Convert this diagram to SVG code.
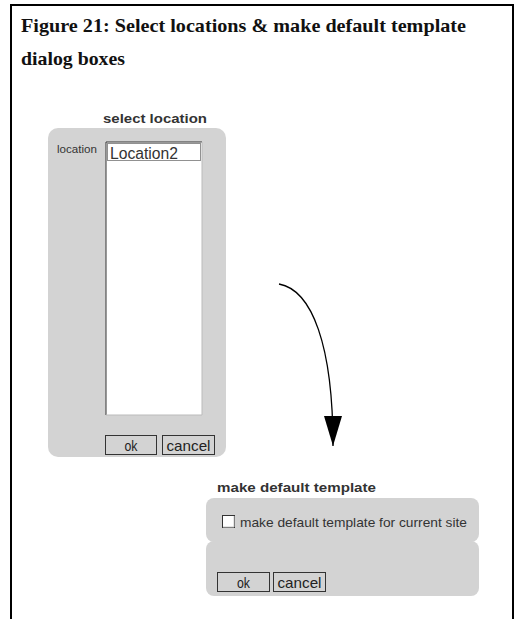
<svg xmlns="http://www.w3.org/2000/svg" width="517" height="619" viewBox="0 0 517 619">
<style>
.panel{fill:#d3d3d3}
.dtitle{font-family:"Liberation Sans",Arial,sans-serif;font-weight:bold;font-size:13px;fill:#333}
.btn{fill:#d3d3d3;stroke:#333;stroke-width:1}
.btxt{font-family:"Liberation Sans",Arial,sans-serif;font-size:15px;fill:#222}
.lbl{font-family:"Liberation Sans",Arial,sans-serif;fill:#333}
.cap{font-family:"Liberation Serif",serif;font-weight:bold;font-size:19px;fill:#111}
</style>
<defs>
<marker id="ah" viewBox="0 0 30 18" refX="30" refY="9" markerWidth="30" markerHeight="18" markerUnits="userSpaceOnUse" orient="auto">
<path d="M0,0 L30,9 L0,18 Z" fill="#000"/>
</marker>
</defs>
<rect width="517" height="619" fill="#fff"/>
<path d="M11,620 L11,5 L513,5 L513,620" fill="none" stroke="#000" stroke-width="2"/>
<g id="caption">
<text class="cap" x="21" y="32" textLength="445" lengthAdjust="spacingAndGlyphs">Figure 21: Select locations &amp; make default template</text>
<text class="cap" x="21" y="65" textLength="104" lengthAdjust="spacingAndGlyphs">dialog boxes</text>
</g>
<g id="select-location">
<text class="dtitle" x="103" y="123" textLength="104" lengthAdjust="spacingAndGlyphs">select location</text>
<rect class="panel" x="48" y="128" width="178" height="329" rx="10"/>
<text class="lbl" x="57" y="153" font-size="11" textLength="40" lengthAdjust="spacingAndGlyphs">location</text>
<rect x="106" y="142" width="96" height="273" fill="#fff"/>
<path d="M106,415 L106,142 L202,142" fill="none" stroke="#333" stroke-width="1"/>
<path d="M202,142 L202,415 L106,415" fill="none" stroke="#bbb" stroke-width="1"/>
<rect x="107.5" y="143.5" width="93" height="17" fill="none" stroke="#222" stroke-width="1" stroke-dasharray="1,1"/>
<text class="lbl" x="110" y="159" font-size="16" fill="#666" textLength="68" lengthAdjust="spacingAndGlyphs">Location2</text>
<rect class="btn" x="105.5" y="435.5" width="51" height="19"/>
<text class="btxt" x="131" y="451" text-anchor="middle" textLength="13" lengthAdjust="spacingAndGlyphs">ok</text>
<rect class="btn" x="162.5" y="435.5" width="52" height="19"/>
<text class="btxt" x="188.5" y="451" text-anchor="middle" textLength="44" lengthAdjust="spacingAndGlyphs">cancel</text>
</g>
<g id="connectors">
<path d="M279,284 C312,290 333,345 333,446" fill="none" stroke="#000" stroke-width="1.3" marker-end="url(#ah)"/>
</g>
<g id="make-default-template">
<text class="dtitle" x="217" y="492" textLength="159" lengthAdjust="spacingAndGlyphs">make default template</text>
<rect class="panel" x="206" y="498" width="273" height="44" rx="8"/>
<rect class="panel" x="206" y="541" width="273" height="55" rx="8"/>
<rect x="222.5" y="515.5" width="12" height="12" fill="#fff" stroke="#333" stroke-width="1"/>
<path d="M223,527 L234,527 L234,516" fill="none" stroke="#ccc"/>
<text class="lbl" x="240" y="527" font-size="13" textLength="227" lengthAdjust="spacingAndGlyphs">make default template for current site</text>
<rect class="btn" x="217.5" y="572.5" width="52" height="19"/>
<text class="btxt" x="243.5" y="588" text-anchor="middle" textLength="13" lengthAdjust="spacingAndGlyphs">ok</text>
<rect class="btn" x="273.5" y="572.5" width="52" height="19"/>
<text class="btxt" x="299.5" y="588" text-anchor="middle" textLength="44" lengthAdjust="spacingAndGlyphs">cancel</text>
</g>
</svg>
